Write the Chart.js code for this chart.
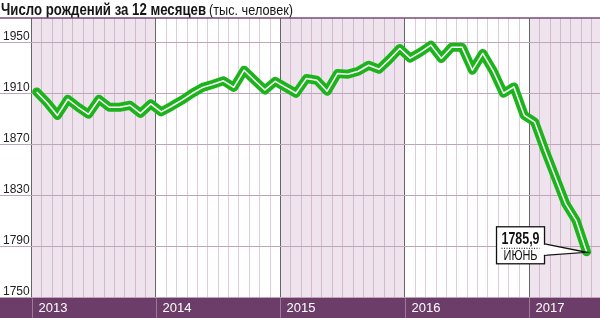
<!DOCTYPE html>
<html>
<head>
<meta charset="utf-8">
<script src="https://cdn.jsdelivr.net/npm/chart.js@4"></script>
<style>
  html, body { margin: 0; padding: 0; background: #fff; }
  #wrap { width: 600px; height: 318px; }
</style>
</head>
<body>
<div id="wrap"><canvas id="births" width="600" height="318"></canvas></div>
<script>
// годы на нижней плашке
const years = ['2013', '2014', '2015', '2016', '2017'];
const monthNames = ['ЯНВАРЬ', 'ФЕВРАЛЬ', 'МАРТ', 'АПРЕЛЬ', 'МАЙ', 'ИЮНЬ',
                    'ИЮЛЬ', 'АВГУСТ', 'СЕНТЯБРЬ', 'ОКТЯБРЬ', 'НОЯБРЬ', 'ДЕКАБРЬ'];
const yTicks = [1750, 1790, 1830, 1870, 1910, 1950];

// число рождений за 12 месяцев, тыс. человек (янв 2013 - июнь 2017)
const births = [
  1911.4, 1903.0, 1893.0, 1905.7, 1899.4, 1893.9, 1905.7, 1899.4, 1899.4, 1901.0, 1894.6, 1902.1,
  1895.8, 1900.2, 1905.0, 1910.4, 1915.0, 1917.5, 1920.2, 1915.0, 1928.5, 1920.6, 1913.0, 1919.8,
  1915.0, 1910.4, 1922.0, 1920.6, 1912.0, 1926.0, 1925.4, 1927.7, 1932.4, 1929.3, 1937.0, 1945.6,
  1938.0, 1942.7, 1948.2, 1937.7, 1946.6, 1946.6, 1928.5, 1941.7, 1928.0, 1910.4, 1915.4, 1893.0,
  1887.8, 1865.5, 1844.5, 1823.5, 1810.4, 1785.9
];

const points = births.map((v, i) => ({ x: i + 0.5, y: v }));
const lastIdx = births.length - 1;

const BAND = '#efe3ed';
const BAR = '#6d3d6a';
const FONT = '"Liberation Sans", Arial, sans-serif';

// текст, сжатый по ширине (узкий гротеск)
function narrowText(ctx, text, x, y, k) {
  ctx.save();
  ctx.translate(x, y);
  ctx.scale(k, 1);
  ctx.fillText(text, 0, 0);
  ctx.restore();
  return ctx.measureText(text).width * k;
}

const decor = {
  id: 'decor',
  beforeDraw(chart) {
    const { ctx, chartArea: a, scales: { x } } = chart;
    ctx.save();
    ctx.fillStyle = '#fff';
    ctx.fillRect(0, 0, chart.width, chart.height);
    // розовые полосы для нечётных лет
    years.forEach((y, i) => {
      if (i % 2 !== 0) return;
      const x0 = x.getPixelForValue(i * 12);
      const x1 = Math.min(x.getPixelForValue((i + 1) * 12), a.right);
      ctx.fillStyle = BAND;
      ctx.fillRect(x0, a.top, x1 - x0, a.bottom - a.top);
    });
    // нижняя плашка
    ctx.fillStyle = BAR;
    ctx.fillRect(0, a.bottom, chart.width, chart.height - a.bottom);
    // заголовок
    ctx.fillStyle = '#151515';
    ctx.textBaseline = 'alphabetic';
    ctx.font = 'bold 17px ' + FONT;
    const t1 = 'Число рождений за 12 месяцев';
    const w1 = narrowText(ctx, t1, 1, 14.5, 205 / ctx.measureText(t1).width);
    ctx.font = '15px ' + FONT;
    const t2 = '(тыс. человек)';
    narrowText(ctx, t2, 1 + w1 + 3, 14.5, 84 / ctx.measureText(t2).width);
    ctx.restore();
  },
  afterDraw(chart) {
    const { ctx, chartArea: a, scales: { x, y } } = chart;
    ctx.save();
    // линия под заголовком
    ctx.strokeStyle = '#7a4a77';
    ctx.lineWidth = 1.5;
    ctx.beginPath();
    ctx.moveTo(0, a.top);
    ctx.lineTo(chart.width, a.top);
    ctx.stroke();
    // подписи годов
    ctx.font = '13px ' + FONT;
    ctx.textBaseline = 'middle';
    const midY = (a.bottom + chart.height) / 2 + 1;
    years.forEach((yr, i) => {
      const px = Math.round(x.getPixelForValue(i * 12)) + 0.5;
      ctx.strokeStyle = '#9c7b99';
      ctx.lineWidth = 1;
      ctx.beginPath();
      ctx.moveTo(px, a.bottom + 1);
      ctx.lineTo(px, chart.height);
      ctx.stroke();
      ctx.fillStyle = '#fff';
      ctx.fillText(yr, px + 6, midY);
    });

    // выноска с последним значением
    const tx = x.getPixelForValue(points[lastIdx].x);
    const ty = y.getPixelForValue(points[lastIdx].y);
    const bx = tx - 90, by = ty - 25, bw = 48, bh = 37;
    ctx.fillStyle = '#fff';
    ctx.strokeStyle = '#111';
    ctx.lineWidth = 1.3;
    ctx.beginPath();
    ctx.moveTo(bx + bw, ty - 8);
    ctx.lineTo(tx, ty + 0.5);
    ctx.lineTo(bx + bw, ty + 3.5);
    ctx.closePath();
    ctx.fill();
    ctx.stroke();
    ctx.fillRect(bx, by, bw, bh);
    ctx.strokeRect(bx, by, bw, bh);
    ctx.fillRect(bx + bw - 2, ty - 7, 4, 10);

    ctx.fillStyle = '#111';
    ctx.textBaseline = 'alphabetic';
    ctx.font = 'bold 17px ' + FONT;
    const val = births[lastIdx].toFixed(1).replace('.', ',');
    const k = 38 / ctx.measureText(val).width;
    narrowText(ctx, val, bx + bw / 2 - 19, by + 17, k);
    ctx.setLineDash([1, 1.5]);
    ctx.lineWidth = 1;
    ctx.beginPath();
    ctx.moveTo(bx + 5, by + 21.5);
    ctx.lineTo(bx + bw - 5, by + 21.5);
    ctx.stroke();
    ctx.setLineDash([]);
    ctx.font = '14px ' + FONT;
    const m = monthNames[lastIdx % 12];
    narrowText(ctx, m, bx + bw / 2 - 17, by + 33.5, 34 / ctx.measureText(m).width);
    ctx.restore();
  }
};

new Chart(document.getElementById('births'), {
  type: 'line',
  data: {
    datasets: [
      {
        data: points,
        borderColor: '#1db31d',
        borderWidth: 9,
        borderJoinStyle: 'round',
        borderCapStyle: 'round',
        pointRadius: 0,
        tension: 0,
        order: 2
      },
      {
        data: points,
        borderColor: '#ffffff',
        borderWidth: 1.5,
        borderJoinStyle: 'round',
        pointRadius: 0,
        tension: 0,
        order: 1
      }
    ]
  },
  options: {
    responsive: false,
    animation: false,
    events: [],
    layout: { padding: { left: 3, top: 18, right: 0, bottom: 0 } },
    plugins: { legend: { display: false }, tooltip: { enabled: false } },
    scales: {
      x: {
        type: 'linear',
        min: 0,
        max: 54.8,
        afterBuildTicks: s => { s.ticks = Array.from({ length: 55 }, (_, i) => ({ value: i })); },
        afterFit: s => { s.height = 20.5; },
        ticks: { display: false },
        border: { display: false },
        grid: {
          drawTicks: false,
          lineWidth: 1,
          color: c => (c.tick && c.tick.value % 12 === 0) ? '#666' : 'rgba(140, 90, 135, 0.3)'
        }
      },
      y: {
        min: 1750,
        max: 1969.5,
        afterBuildTicks: s => { s.ticks = yTicks.map(v => ({ value: v })); },
        afterFit: s => { s.width = 28.5; },
        border: { display: false },
        ticks: {
          callback: v => String(v),
          crossAlign: 'far',
          labelOffset: -6,
          padding: 0,
          color: '#222',
          font: { family: FONT, size: 12 }
        },
        grid: {
          drawTicks: true,
          tickLength: 31.5,
          color: '#bca6b8',
          lineWidth: 1
        }
      }
    }
  },
  plugins: [decor]
});
</script>
</body>
</html>
